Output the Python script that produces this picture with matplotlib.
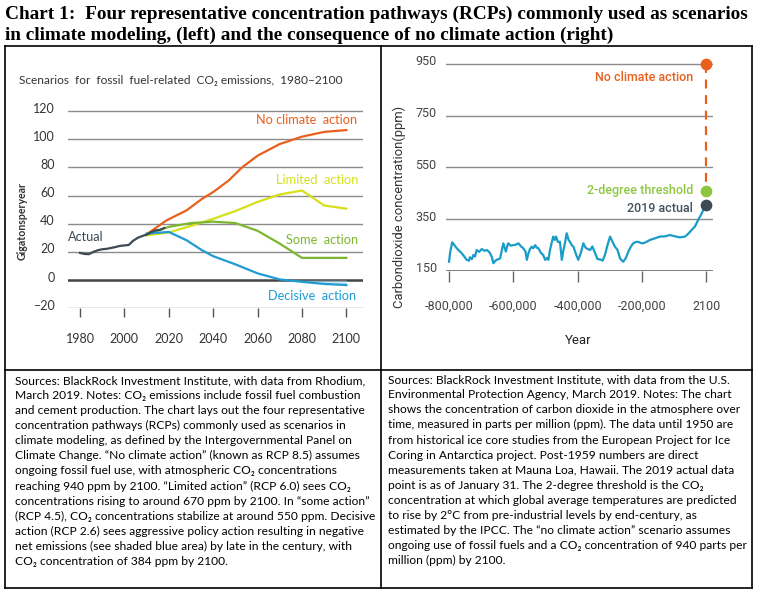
import matplotlib
matplotlib.use('Agg')
import matplotlib.pyplot as plt
import matplotlib.transforms as mtransforms
from matplotlib.lines import Line2D

# ---- data: left chart (gigatons per year) ----
actual_years = [1980, 1982, 1984, 1986, 1988, 1990, 1992, 1994, 1996, 1998,
                2000, 2002, 2004, 2006, 2008, 2010, 2012, 2014, 2016, 2018]
actual = [19.3, 18.6, 18.4, 20.0, 21.2, 21.9, 22.2, 22.8, 23.5, 24.3,
          24.6, 25.0, 28.0, 30.0, 31.3, 32.3, 34.0, 35.3, 35.6, 37.0]

no_action_years = [2010, 2019, 2028, 2035, 2040, 2047, 2053, 2060, 2070, 2080, 2090, 2100]
no_action = [32.5, 42.4, 49.5, 57.7, 62.5, 70.7, 80.0, 88.3, 96.6, 101.8, 105.2, 106.5]

limited_years = [2010, 2020, 2030, 2040, 2050, 2060, 2070, 2080, 2090, 2100]
limited = [31.8, 33.8, 38.5, 43.5, 49.0, 55.5, 60.8, 63.6, 53.0, 50.7]

some_years = [2010, 2020, 2030, 2040, 2050, 2060, 2070, 2080, 2090, 2100]
some = [32.5, 37.8, 40.5, 41.5, 40.5, 35.0, 25.9, 15.8, 15.8, 15.8]

decisive_years = [2010, 2020, 2028, 2035, 2040, 2050, 2060, 2070, 2080, 2090, 2100]
decisive = [33.0, 34.2, 28.3, 21.2, 17.0, 11.2, 4.8, 0.5, -1.2, -2.7, -3.5]

left_yticks = [-20, 0, 20, 40, 60, 80, 100, 120]
left_xticks = [1980, 2000, 2020, 2040, 2060, 2080, 2100]

# ---- data: right chart (ppm); x in chart position units, last tick labelled 2100 ----
co2_x = [-800, -796, -790, -782, -776, -768, -760, -752, -745, -738, -735, -729, -724,
         -719, -714, -706, -698, -690, -683, -677, -672, -667, -662, -657, -652, -646,
         -641, -636, -631, -627, -623, -619, -616, -608, -600, -592, -584, -576, -569,
         -562, -558, -553, -548, -543, -538, -532, -527, -522, -514, -507, -501, -496,
         -491, -486, -481, -476, -471, -467, -461, -455, -449, -445, -439, -434, -428,
         -424, -418, -413, -405, -398, -390, -382, -375, -368, -361, -354, -346, -338,
         -330, -322, -315, -307, -299, -291, -284, -276, -268, -262, -258, -250, -242,
         -234, -227, -219, -211, -203, -196, -185, -175, -160, -144, -128, -113, -97,
         -82, -66, -55, -45, -35, -25, -15, -9, -4, 0]
co2_ppm = [186, 225, 261, 248, 238, 228, 218, 205, 193, 190, 203, 196, 212,
           206, 231, 224, 235, 228, 231, 226, 218, 205, 180, 188, 193, 196,
           199, 228, 257, 240, 225, 246, 257, 248, 250, 252, 257, 245, 238,
           225, 193, 218, 235, 244, 238, 250, 240, 238, 220, 212, 193, 200,
           193, 230, 257, 283, 270, 283, 262, 263, 193, 225, 260, 296, 270,
           263, 250, 244, 215, 193, 220, 257, 240, 235, 231, 245, 220, 196,
           195, 190, 212, 250, 283, 262, 244, 232, 199, 190, 186, 200, 225,
           245, 257, 262, 263, 258, 257, 263, 270, 276, 283, 284, 289, 284,
           280, 283, 295, 309, 322, 347, 370, 386, 397, 405]
no_action_ppm = 950
threshold_ppm = 460
actual_2019_ppm = 405

right_yticks = [150, 350, 550, 750, 950]
right_xticks = [-800, -600, -400, -200, 0]
right_xticklabels = ['-800,000', '-600,000', '-400,000', '-200,000', '2100']

title_lines = ['Chart 1:  Four representative concentration pathways (RCPs) commonly used as scenarios',
               'in climate modeling, (left) and the consequence of no climate action (right)']

left_notes = [
    'Sources: BlackRock Investment Institute, with data from Rhodium,',
    'March 2019. Notes: CO\u2082 emissions include fossil fuel combustion',
    'and cement production. The chart lays out the four representative',
    'concentration pathways (RCPs) commonly used as scenarios in',
    'climate modeling, as defined by the Intergovernmental Panel on',
    'Climate Change. \u201cNo climate action\u201d (known as RCP 8.5) assumes',
    'ongoing fossil fuel use, with atmospheric CO\u2082 concentrations',
    'reaching 940 ppm by 2100. \u201cLimited action\u201d (RCP 6.0) sees CO\u2082',
    'concentrations rising to around 670 ppm by 2100. In \u201csome action\u201d',
    '(RCP 4.5), CO\u2082 concentrations stabilize at around 550 ppm. Decisive',
    'action (RCP 2.6) sees aggressive policy action resulting in negative',
    'net emissions (see shaded blue area) by late in the century, with',
    'CO\u2082 concentration of 384 ppm by 2100.',
]
right_notes = [
    'Sources: BlackRock Investment Institute, with data from the U.S.',
    'Environmental Protection Agency, March 2019. Notes: The chart',
    'shows the concentration of carbon dioxide in the atmosphere over',
    'time, measured in parts per million (ppm). The data until 1950 are',
    'from historical ice core studies from the European Project for Ice',
    'Coring in Antarctica project. Post-1959 numbers are direct',
    'measurements taken at Mauna Loa, Hawaii. The 2019 actual data',
    'point is as of January 31. The 2-degree threshold is the CO\u2082',
    'concentration at which global average temperatures are predicted',
    'to rise by 2\u00b0C from pre-industrial levels by end-century, as',
    'estimated by the IPCC. The \u201cno climate action\u201d scenario assumes',
    'ongoing use of fossil fuels and a CO\u2082 concentration of 940 parts per',
    'million (ppm) by 2100.',
]

ORANGE = '#e8601c'
YELLOW = '#d6e01a'
GREEN = '#7cb82f'
BLUE = '#1e9bd2'
DARK = '#3b4a55'
BODY = ['Lato', 'DejaVu Sans']
COND = ['Roboto', 'DejaVu Sans']

W, H = 760, 595
fig = plt.figure(figsize=(7.6, 5.95), dpi=100)


def fx(x):
    return x / W


def fy(y):
    return 1 - y / H


# title
for i, line in enumerate(title_lines):
    fig.text(fx(5), fy(14 + i * 21.5), line, family='Liberation Serif', weight='bold',
             fontsize=13.85, va='center', ha='left', color='black')

# table borders
def hline(y, x0, x1):
    fig.add_artist(Line2D([fx(x0), fx(x1)], [fy(y), fy(y)], transform=fig.transFigure,
                          color='black', lw=1.2))


def vline(x, y0, y1):
    fig.add_artist(Line2D([fx(x), fx(x)], [fy(y0), fy(y1)], transform=fig.transFigure,
                          color='black', lw=1.2))


hline(45.5, 4.5, 751.5)
hline(369.5, 4.5, 751.5)
hline(588, 4.5, 751.5)
vline(4.5, 45.5, 588)
vline(380.5, 45.5, 588)
vline(751.5, 45.5, 588)

# ---------------- left chart ----------------
ax1 = fig.add_axes([fx(68), fy(308.3), (363 - 68) / W, (308.3 - 104) / H])
ax1.set_xlim(1974.6, 2107.5)
ax1.set_ylim(-20, 125)
for s in ax1.spines.values():
    s.set_visible(False)
for v in left_yticks:
    if v == 0:
        ax1.axhline(v, color='#444444', lw=1.8, zorder=1)
    else:
        ax1.axhline(v, color='#8c8c8c', lw=1.0, zorder=1)

ax1.fill_between(decisive_years, decisive, 0, where=[d < 0 for d in decisive],
                 interpolate=True, color='#a9d8ef', alpha=0.6, lw=0, zorder=2)
ax1.plot(no_action_years, no_action, color=ORANGE, lw=1.6, zorder=3)
ax1.plot(limited_years, limited, color=YELLOW, lw=1.6, zorder=3)
ax1.plot(some_years, some, color=GREEN, lw=1.6, zorder=3)
ax1.plot(decisive_years, decisive, color=BLUE, lw=1.6, zorder=3)
ax1.plot(actual_years, actual, color=DARK, lw=1.6, zorder=4)

ax1.set_yticks(left_yticks)
ax1.set_xticks(left_xticks)
ax1.tick_params(axis='y', length=0, pad=9.5, labelsize=9, labelcolor='#333333')
ax1.tick_params(axis='x', length=6.5, width=1, color='#555555', pad=11,
                labelsize=9, labelcolor='#333333')
for lab in ax1.get_yticklabels() + ax1.get_xticklabels():
    lab.set_family(BODY)
up = mtransforms.ScaledTranslation(0, 0.035, fig.dpi_scale_trans)
for lab in ax1.get_yticklabels():
    lab.set_transform(lab.get_transform() + up)

ax1.text(2104.8, 113.5, 'No climate  action', color=ORANGE, ha='right', va='center',
         fontsize=9.2, family=BODY)
ax1.text(2105.2, 71, 'Limited  action', color=YELLOW, ha='right', va='center',
         fontsize=9.2, family=BODY)
ax1.text(2105.2, 28.4, 'Some  action', color=GREEN, ha='right', va='center',
         fontsize=9.2, family=BODY)
ax1.text(2104.3, -11.4, 'Decisive  action', color=BLUE, ha='right', va='center',
         fontsize=9.2, family=BODY)
ax1.text(1974.6, 30.5, 'Actual', color=DARK, ha='left', va='center',
         fontsize=9.2, family=BODY)

fig.text(fx(19), fy(80), 'Scenarios  for  fossil  fuel-related  CO\u2082 emissions,  1980\u20132100',
         family=BODY, fontsize=8.6, color='#333333', va='center', ha='left')
fig.text(fx(22), fy(221), 'Gigatonsperyear', family=BODY, weight='bold', fontsize=7.6,
         color='#333333', rotation=90, va='center', ha='center')

# ---------------- right chart ----------------
ax2 = fig.add_axes([fx(445.7), fy(271), (713 - 445.7) / W, (271 - 58.8) / H])
ax2.set_xlim(-810.3, 21.2)
ax2.set_ylim(150, 970)
for s in ax2.spines.values():
    s.set_visible(False)
for v in right_yticks:
    if v == 150:
        ax2.axhline(v, color='#555555', lw=1.8, zorder=1)
    else:
        ax2.axhline(v, color='#8c8c8c', lw=1.0, zorder=1)

ax2.plot(co2_x, co2_ppm, color='#1a9cc8', lw=1.6, zorder=3)
ax2.plot([0, 0], [no_action_ppm, 495], color=ORANGE, lw=1.6, ls=(0, (4, 3)), zorder=2)
ax2.scatter([0], [no_action_ppm], s=55, color=ORANGE, zorder=5, clip_on=False)
ax2.scatter([0], [threshold_ppm], s=55, color='#8dc63f', zorder=5, clip_on=False)
ax2.scatter([0], [actual_2019_ppm], s=55, color=DARK, zorder=5, clip_on=False)

ax2.text(-40, 897, 'No climate action', color=ORANGE, ha='right', va='center',
         fontsize=9, family=COND, weight='medium')
ax2.text(-40, 463, '2-degree threshold', color='#8dc63f', ha='right', va='center',
         fontsize=9, family=COND, weight='medium')
ax2.text(-40, 393, '2019 actual', color='#44525c', ha='right', va='center',
         fontsize=9, family=COND, weight='medium')

ax2.set_yticks(right_yticks)
ax2.set_xticks(right_xticks)
ax2.set_xticklabels(right_xticklabels)
ax2.tick_params(axis='y', length=0, pad=6.5, labelsize=9, labelcolor='#444444')
ax2.tick_params(axis='x', length=8, width=1, color='#666666', pad=13,
                labelsize=9, labelcolor='#444444')
for lab in ax2.get_yticklabels() + ax2.get_xticklabels():
    lab.set_family(COND)
for lab in ax2.get_yticklabels():
    lab.set_transform(lab.get_transform() + up)

fig.text(fx(399), fy(207), 'Carbondioxide concentration(ppm)', family=COND, fontsize=9.4,
         color='#333333', rotation=90, va='center', ha='center')
fig.text(fx(578), fy(341), 'Year', family=COND, fontsize=9.5, color='#222222',
         va='center', ha='center')

# ---------------- notes ----------------
for i, line in enumerate(left_notes):
    fig.text(fx(15), fy(380.7 + i * 15.05), line, family=BODY, fontsize=8.65,
             color='black', va='center', ha='left')
for i, line in enumerate(right_notes):
    fig.text(fx(388), fy(379.7 + i * 15.08), line, family=BODY, fontsize=8.65,
             color='black', va='center', ha='left')

fig.savefig('out.png', dpi=100)
